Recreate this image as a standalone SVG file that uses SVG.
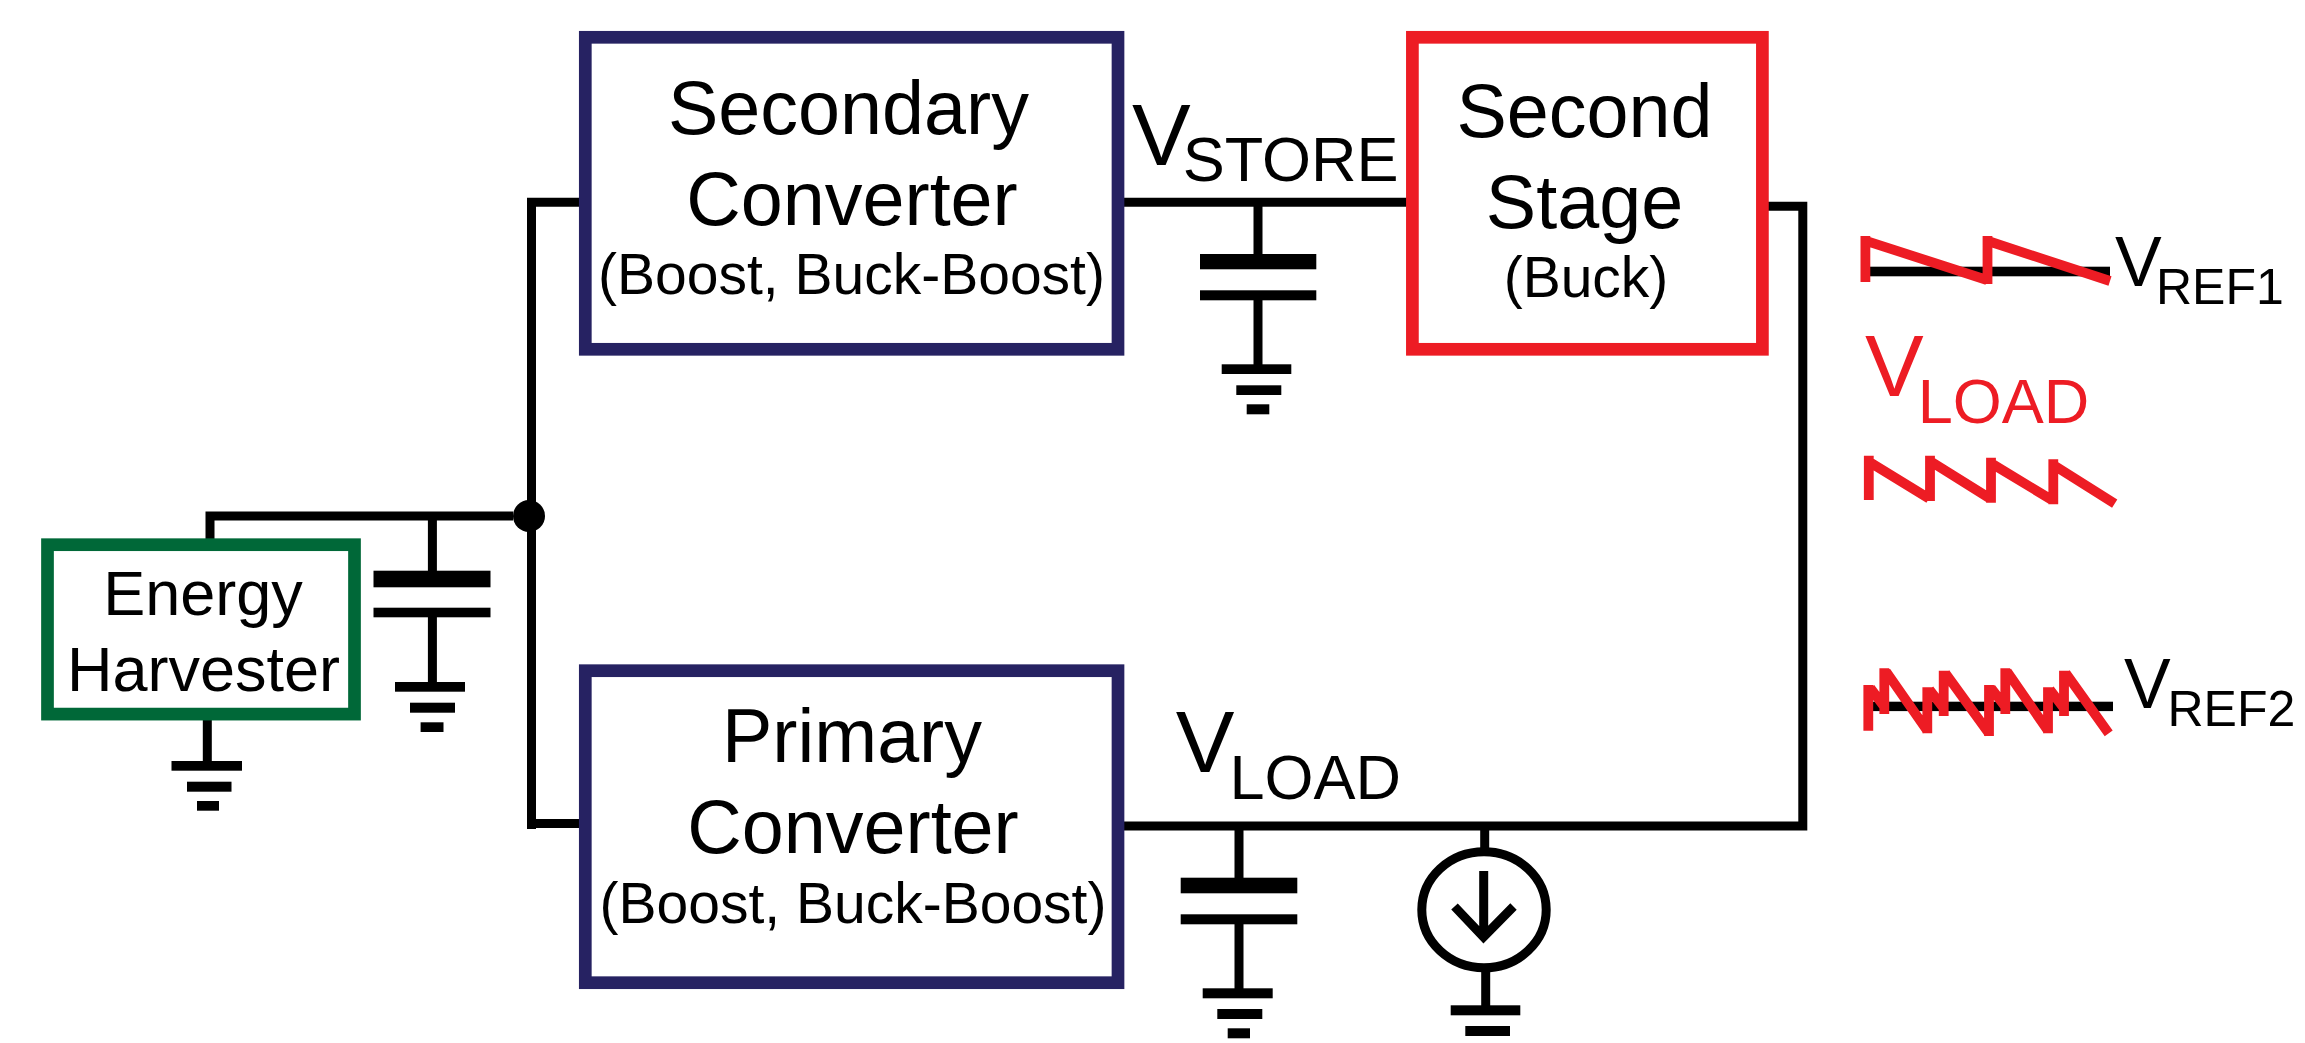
<svg xmlns="http://www.w3.org/2000/svg" width="2305" height="1043" viewBox="0 0 2305 1043">
<style>
text{font-family:"Liberation Sans",Arial,sans-serif;fill:#000}
.c{text-anchor:middle}
.t75{font-size:75.5px}
.t56{font-size:57px}
.t63{font-size:63px}
.t88{font-size:88px}
.t70{font-size:70px}
.t50{font-size:50px}
.red{fill:#ed1c24}
.box{fill:#fff;stroke-width:12.7}
.navy{stroke:#262262}
.rbox{stroke:#ed1c24}
.gbox{stroke:#006838}
.wire{fill:none;stroke:#000;stroke-width:9;stroke-linejoin:miter}
.saw{fill:none;stroke:#ed1c24;stroke-width:9.8}
.k{fill:#000}
</style>
<rect width="2305" height="1043" fill="#fff"/>
<g id="connectors">
<path class="wire" d="M579 202.2H531.5V829M579 823.5H527"/>
<path class="wire" d="M513 516H210V540"/>
<path class="wire" d="M432.4 516V571M432.4 617V683"/>
<path class="wire" d="M207.3 720V762"/>
<path class="wire" d="M1124 202.2H1407"/>
<path class="wire" d="M1258 202V255M1258 300V365"/>
<path class="wire" d="M1768 206.2H1802.8V826H1124"/>
<path class="wire" d="M1239 826V878M1239 924V989"/>
<path class="wire" d="M1484.7 826V850M1485.7 970V1006"/>
<circle class="k" cx="529" cy="516" r="16"/>
</g>
<g id="energy-harvester">
<rect class="box gbox" x="47.5" y="544.7" width="307" height="169.4"/>
<text class="c t63" x="203" y="615">Energy</text>
<text class="c t63" x="203.5" y="691">Harvester</text>
</g>
<g id="secondary-converter">
<rect class="box navy" x="585.3" y="37.3" width="532.7" height="312"/>
<text class="c t75" x="848.5" y="134">Secondary</text>
<text class="c t75" x="852" y="225">Converter</text>
<text class="c t56" x="851.5" y="294">(Boost, Buck-Boost)</text>
</g>
<g id="primary-converter">
<rect class="box navy" x="585.3" y="670.7" width="532.7" height="312"/>
<text class="c t75" x="852" y="762.3">Primary</text>
<text class="c t75" x="853" y="853.3">Converter</text>
<text class="c t56" x="853" y="922.7">(Boost, Buck-Boost)</text>
</g>
<g id="second-stage">
<rect class="box rbox" x="1412.4" y="37.3" width="350" height="312"/>
<text class="c t75" x="1584.5" y="137.3">Second</text>
<text class="c t75" x="1584.5" y="228.3">Stage</text>
<text class="c t56" x="1586" y="296.7">(Buck)</text>
</g>
<g id="cap-input">
<rect class="k" x="373.5" y="570.7" width="117" height="16.6"/>
<rect class="k" x="373.5" y="607.7" width="117" height="9.6"/>
</g>
<g id="gnd-input-cap">
<rect class="k" x="395" y="682" width="70" height="9.7"/>
<rect class="k" x="410" y="702.7" width="45" height="10"/>
<rect class="k" x="420.6" y="722.3" width="22.9" height="9.7"/>
</g>
<g id="gnd-harvester">
<rect class="k" x="171.5" y="761" width="70.5" height="9.7"/>
<rect class="k" x="187" y="781.7" width="44.5" height="10"/>
<rect class="k" x="197" y="801" width="22" height="9.7"/>
</g>
<g id="cap-store">
<rect class="k" x="1200" y="254" width="116.3" height="15.3"/>
<rect class="k" x="1200" y="290.3" width="116.3" height="10"/>
</g>
<g id="gnd-store">
<rect class="k" x="1221.7" y="364.3" width="69.6" height="9.7"/>
<rect class="k" x="1236.3" y="385.3" width="45" height="9.7"/>
<rect class="k" x="1246.7" y="404.3" width="22.6" height="10"/>
</g>
<g id="cap-load">
<rect class="k" x="1180.7" y="877.7" width="116.6" height="15.6"/>
<rect class="k" x="1180.7" y="914.3" width="116.6" height="10"/>
</g>
<g id="gnd-load-cap">
<rect class="k" x="1202.7" y="988.3" width="70" height="10"/>
<rect class="k" x="1217.3" y="1009" width="45" height="10"/>
<rect class="k" x="1227.7" y="1028.3" width="22.3" height="10"/>
</g>
<g id="current-source">
<ellipse cx="1484" cy="909.8" rx="62.2" ry="58" fill="#fff" stroke="#000" stroke-width="9"/>
<path class="wire" d="M1483.7 871V938M1454.5 906.5L1483.5 937L1513.5 906.5"/>
</g>
<g id="gnd-source">
<rect class="k" x="1450.7" y="1005.3" width="69.6" height="10"/>
<rect class="k" x="1465.3" y="1026" width="44.7" height="10"/>
</g>
<g id="label-vstore">
<text class="t88" x="1132" y="165">V</text>
<text class="t63" x="1182.7" y="181">STORE</text>
</g>
<g id="label-vload">
<text class="t88" x="1175.8" y="772">V</text>
<text class="t63" x="1229.5" y="799.3">LOAD</text>
</g>
<g id="waveform-vref1">
<rect class="k" x="1869" y="266.7" width="241" height="9.6"/>
<path class="saw" d="M1865.4 282V236M1866 240.8L1987 280M1987.5 284V236M1988 241L2110 281"/>
<text class="t70" x="2115" y="285.7">V</text>
<text class="t50" x="2156" y="304">REF1</text>
</g>
<g id="waveform-vload">
<text class="t88 red" x="1865" y="396">V</text>
<text class="t63 red" x="1917.7" y="423.3">LOAD</text>
<path class="saw" d="M1868.8 500V455.7M1869 461.7L1929 498.5M1930 501V455.7M1931 461.7L1990 498.5M1991 502.7V457.7M1992 463.7L2052 500M2053.3 504.3V459.3M2054 465.3L2114.7 503.7"/>
</g>
<g id="waveform-vref2">
<rect class="k" x="1873" y="701.7" width="240" height="9.4"/>
<path class="saw" d="M1868.3 730.7V685M1870.3 688L1884.3 706.7M1884.3 714V668.3M1886 671.5L1927.3 730.7M1927.3 733.3V687.3M1929.3 689.5L1943.7 708.3M1943.7 716V670.7M1945.3 673.1L1989 733.3M1989 736V685M1991 688L2005.3 706.7M2005.3 714V668.3M2007 671.5L2048 730.7M2048 733.3V687.3M2049.7 689.5L2064 708.3M2064 716V670.7M2065.7 673.1L2108.7 733.3"/>
<text class="t70" x="2124" y="708.3">V</text>
<text class="t50" x="2167.5" y="726">REF2</text>
</g>
</svg>
